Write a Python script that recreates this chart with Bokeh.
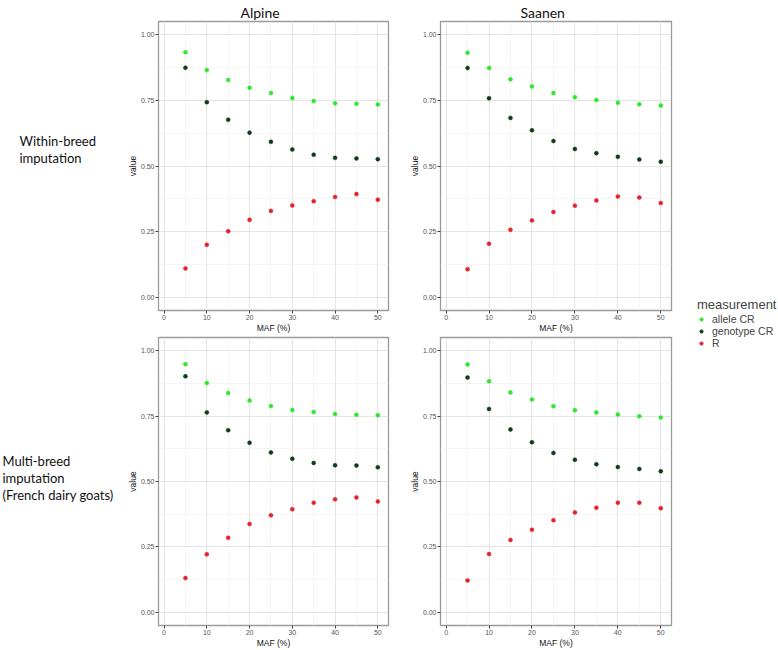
from bokeh.plotting import figure
from bokeh.layouts import row, column
from bokeh.models import FixedTicker, NumeralTickFormatter, Legend, LegendItem, Label
from bokeh.embed import file_html
from bokeh.resources import INLINE

# ---------------- data ----------------
maf = [5, 10, 15, 20, 25, 30, 35, 40, 45, 50]
measurements = ["allele CR", "genotype CR", "R"]
colors = ["#2fe62f", "#0b3d17", "#e2232b"]
breeds = ["Alpine", "Saanen"]
row_labels = [["Within-breed", "imputation"],
              ["Multi-breed", "imputation", "(French dairy goats)"]]
y_ticks = [0.0, 0.25, 0.5, 0.75, 1.0]
y_minor = [0.125, 0.375, 0.625, 0.875]
x_ticks = [0, 10, 20, 30, 40, 50]
x_minor = [5, 15, 25, 35, 45]

within_alpine_allele = [0.933, 0.865, 0.827, 0.798, 0.778, 0.759, 0.747, 0.739, 0.737, 0.734]
within_alpine_genotype = [0.874, 0.743, 0.676, 0.627, 0.592, 0.563, 0.543, 0.531, 0.529, 0.526]
within_alpine_r = [0.110, 0.200, 0.252, 0.295, 0.329, 0.350, 0.366, 0.382, 0.393, 0.372]

within_saanen_allele = [0.931, 0.873, 0.830, 0.803, 0.778, 0.762, 0.751, 0.741, 0.735, 0.730]
within_saanen_genotype = [0.873, 0.758, 0.683, 0.636, 0.595, 0.565, 0.549, 0.535, 0.525, 0.516]
within_saanen_r = [0.107, 0.204, 0.257, 0.293, 0.325, 0.349, 0.369, 0.384, 0.380, 0.359]

multi_alpine_allele = [0.948, 0.876, 0.838, 0.809, 0.788, 0.773, 0.765, 0.758, 0.755, 0.753]
multi_alpine_genotype = [0.902, 0.764, 0.696, 0.648, 0.611, 0.587, 0.571, 0.562, 0.561, 0.554]
multi_alpine_r = [0.131, 0.222, 0.285, 0.338, 0.371, 0.394, 0.419, 0.432, 0.439, 0.424]

multi_saanen_allele = [0.947, 0.883, 0.840, 0.813, 0.787, 0.772, 0.764, 0.756, 0.749, 0.744]
multi_saanen_genotype = [0.897, 0.777, 0.699, 0.650, 0.609, 0.583, 0.566, 0.555, 0.548, 0.539]
multi_saanen_r = [0.122, 0.223, 0.277, 0.316, 0.352, 0.382, 0.400, 0.419, 0.419, 0.398]

panels = [
    [[within_alpine_allele, within_alpine_genotype, within_alpine_r],
     [within_saanen_allele, within_saanen_genotype, within_saanen_r]],
    [[multi_alpine_allele, multi_alpine_genotype, multi_alpine_r],
     [multi_saanen_allele, multi_saanen_genotype, multi_saanen_r]],
]

AX_FONT = "Liberation Sans"
TITLE_FONT = "Lato"

# column geometry: (figure width, min_border_left, min_border_right, title offset)
col_geom = [(286, 38, 18, 82), (276, 34, 11, 80)]
# row geometry: (figure height, min_border_top, min_border_bottom)
row_geom = [(335, 21, 22), (315, 2, 22)]


def make_panel(series, r, c):
    w, bl, br, toff = col_geom[c]
    h, bt, bb = row_geom[r]
    p = figure(width=w, height=h, output_backend="svg", toolbar_location=None,
               x_range=(-1.3, 52.5), y_range=(-0.05, 1.05),
               min_border_left=bl, min_border_right=br,
               min_border_top=bt, min_border_bottom=bb,
               background_fill_color="white", border_fill_color="white")
    if r == 0:
        p.title.text = breeds[c]
        p.title.align = "left"
        p.title.offset = toff
        p.title.standoff = 2
        p.title.text_font = TITLE_FONT
        p.title.text_font_size = "14px"
        p.title.text_font_style = "normal"
        p.title.text_color = "#111111"
    p.outline_line_color = "#9a9a9a"
    p.outline_line_width = 1.3

    p.xaxis.ticker = FixedTicker(ticks=x_ticks, minor_ticks=x_minor)
    p.yaxis.ticker = FixedTicker(ticks=y_ticks, minor_ticks=y_minor)
    p.yaxis.formatter = NumeralTickFormatter(format="0.00")
    p.xaxis.axis_label = "MAF (%)"
    p.yaxis.axis_label = "value"
    for ax in (p.xaxis, p.yaxis):
        ax.axis_line_color = None
        ax.major_tick_line_color = "#444444"
        ax.major_tick_out = 3
        ax.major_tick_in = 0
        ax.minor_tick_line_color = None
        ax.major_label_text_font = AX_FONT
        ax.major_label_text_font_size = "7px"
        ax.major_label_text_color = "#555555"
        ax.major_label_text_line_height = 0.9
        ax.major_label_standoff = 0
        ax.axis_label_text_font = AX_FONT
        ax.axis_label_text_font_size = "8.5px"
        ax.axis_label_text_font_style = "normal"
        ax.axis_label_text_color = "#111111"
        ax.axis_label_text_line_height = 0.9
        ax.axis_label_standoff = 0
    for g in (p.xgrid, p.ygrid):
        g.grid_line_color = "#e4e4e4"
        g.grid_line_width = 1
        g.minor_grid_line_color = "#f1f1f1"
        g.minor_grid_line_width = 0.7

    for vals, col in zip(series, colors):
        p.scatter(x=maf, y=vals, size=4.0, fill_color=col, line_color=col, line_width=0.5)
    return p


rows = []
for r in range(2):
    rows.append(row(*[make_panel(panels[r][c], r, c) for c in range(2)], spacing=0))
grid = column(*rows, spacing=0)

# row labels (page-pixel-like coordinates, y downwards)
lab = figure(width=120, height=650, output_backend="svg", toolbar_location=None,
             x_range=(0, 120), y_range=(650, 0), min_border=0)
lab.axis.visible = False
lab.grid.visible = False
lab.outline_line_color = None
label_pos = [(19, 140), (2, 460)]
for (lx, ly), lines in zip(label_pos, row_labels):
    for i, t in enumerate(lines):
        lab.add_layout(Label(x=lx, y=ly + i * 17, text=t, text_font=TITLE_FONT,
                             text_font_size="13px", text_baseline="middle",
                             text_color="#111111"))

# legend
lg = figure(width=96, height=650, output_backend="svg", toolbar_location=None,
            x_range=(0, 1), y_range=(0, 1), min_border=0)
lg.axis.visible = False
lg.grid.visible = False
lg.outline_line_color = None
items = []
for name, col, vals in zip(measurements, colors, panels[0][0]):
    rr = lg.scatter(x=maf, y=vals, size=4.0, fill_color=col, line_color=col, visible=False)
    items.append(LegendItem(label=name, renderers=[rr]))
legend = Legend(items=items, title="measurement", location=(15, 301),
                margin=0, padding=2, spacing=0, label_height=9, glyph_height=10,
                glyph_width=8, label_standoff=7,
                title_text_font=AX_FONT, title_text_font_size="13px",
                title_text_font_style="normal", title_standoff=1,
                label_text_font=AX_FONT, label_text_font_size="10.5px",
                border_line_color=None, background_fill_alpha=0,
                inactive_fill_alpha=0)
lg.add_layout(legend)

page = row(lab, grid, lg, spacing=0)
open("out.html", "w").write(file_html(page, INLINE))
